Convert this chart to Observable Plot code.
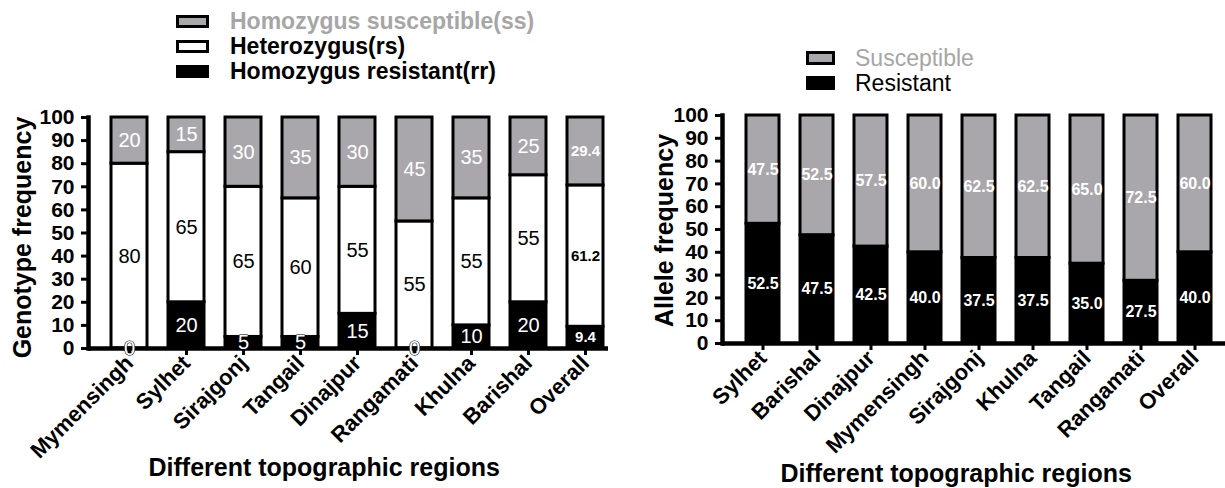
<!DOCTYPE html>
<html>
<head>
<meta charset="utf-8">
<script src="https://cdn.jsdelivr.net/npm/d3@7"></script>
<script src="https://cdn.jsdelivr.net/npm/@observablehq/plot@0.6"></script>
<style>
  body { margin: 0; background: #fff; font-family: "Liberation Sans", Arial, sans-serif; }
  #wrap { position: relative; width: 1225px; height: 488px; overflow: hidden; background: #fff; }
  .chart { position: absolute; top: 0; }
  .sw { box-sizing: border-box; border: 3px solid #000; }
  .title { position: absolute; white-space: nowrap; font-weight: bold; font-size: 25px; line-height: 25px; }
</style>
</head>
<body>
<div id="wrap"></div>
<script>
// ---------- data ----------
const genoRegions = ["Mymensingh", "Sylhet", "Sirajgonj", "Tangail", "Dinajpur", "Rangamati", "Khulna", "Barishal", "Overall"];
const genoRR = [0, 20, 5, 5, 15, 0, 10, 20, 9.4];
const genoRS = [80, 65, 65, 60, 55, 55, 55, 55, 61.2];
const genoSS = [20, 15, 30, 35, 30, 45, 35, 25, 29.4];

const alleleRegions = ["Sylhet", "Barishal", "Dinajpur", "Mymensingh", "Sirajgonj", "Khulna", "Tangail", "Rangamati", "Overall"];
const alleleR = [52.5, 47.5, 42.5, 40.0, 37.5, 37.5, 35.0, 27.5, 40.0];
const alleleS = [47.5, 52.5, 57.5, 60.0, 62.5, 62.5, 65.0, 72.5, 60.0];

const yTicks = [0, 10, 20, 30, 40, 50, 60, 70, 80, 90, 100];
const genoLegend = ["Homozygus susceptible(ss)", "Heterozygus(rs)", "Homozygus resistant(rr)"];
const alleleLegend = ["Susceptible", "Resistant"];
const genoYTitle = "Genotype frequency";
const alleleYTitle = "Allele frequency";
const xTitle = "Different topographic regions";

// ---------- styles ----------
const GRAY = "#a9a7ab";
const FONT = "Liberation Sans, Arial, sans-serif";
const genoFill = {rr: "#000", rs: "#fff", ss: GRAY};
const genoText = {rr: "#fff", rs: "#000", ss: "#fff"};
const alleleFill = {r: "#000", s: GRAY};

function stackRows(regions, series) {
  const rows = [];
  regions.forEach((region, i) => {
    let acc = 0;
    series.forEach(s => {
      const v = s.values[i];
      rows.push({region, key: s.key, value: v, y1: acc, y2: acc + v, mid: acc + v / 2});
      acc += v;
    });
  });
  return rows;
}

const rowsL = stackRows(genoRegions, [
  {key: "rr", values: genoRR}, {key: "rs", values: genoRS}, {key: "ss", values: genoSS}
]);
const rowsR = stackRows(alleleRegions, [
  {key: "r", values: alleleR}, {key: "s", values: alleleS}
]);

const wrap = document.getElementById("wrap");
const axisStyle = {fontFamily: FONT, background: "transparent", overflow: "visible"};
const isOverall = d => d.region === "Overall";

// ---------- left chart ----------
const left = Plot.plot({
  width: 620, height: 488,
  marginLeft: 88, marginRight: 12, marginTop: 117, marginBottom: 140,
  style: axisStyle,
  x: {domain: genoRegions, range: [88, 626], paddingInner: 0.374, paddingOuter: 0.365, label: null},
  y: {domain: [0, 100], label: null},
  color: {type: "identity"},
  marks: [
    Plot.barY(rowsL, {x: "region", y1: "y1", y2: "y2", fill: d => genoFill[d.key], stroke: "#000", strokeWidth: 3}),
    Plot.ruleY([0], {stroke: "#000", strokeWidth: 4.5}),
    Plot.frame({anchor: "left", stroke: "#000", strokeWidth: 4.5}),
    Plot.axisY({ticks: yTicks, tickSize: 7, tickPadding: 7, strokeWidth: 3, fontSize: 21, fontWeight: "bold", fill: "#000", label: null}),
    Plot.axisX({tickSize: 7, tickPadding: 4, strokeWidth: 3, tickRotate: -45, fontSize: 22, fontWeight: "bold", fill: "#000", label: null}),
    // value labels (white rr labels get a thin dark outline so that small/zero ones stay readable)
    Plot.text(rowsL.filter(d => !isOverall(d) && d.key !== "rr"), {
      x: "region", y: "mid", text: d => String(d.value),
      fill: d => genoText[d.key], fontSize: 20, fontFamily: FONT
    }),
    Plot.text(rowsL.filter(d => !isOverall(d) && d.key === "rr"), {
      x: "region", y: "mid", text: d => String(d.value),
      fill: "#fff", stroke: "#000", strokeWidth: 1.2, paintOrder: "stroke", fontSize: 20, fontFamily: FONT
    }),
    Plot.text(rowsL.filter(isOverall), {
      x: "region", y: "mid", text: d => d.value.toFixed(1),
      fill: d => genoText[d.key], fontSize: 15, fontWeight: "bold", fontFamily: FONT
    })
  ]
});
left.classList.add("chart");
left.style.left = "0px";
wrap.appendChild(left);

// ---------- right chart ----------
const right = Plot.plot({
  width: 605, height: 488,
  marginLeft: 102, marginRight: 0, marginTop: 115, marginBottom: 145,
  style: axisStyle,
  x: {domain: alleleRegions, range: [102, 616], paddingInner: 0.382, paddingOuter: 0.364, label: null},
  y: {domain: [0, 100], label: null},
  color: {type: "identity"},
  marks: [
    Plot.barY(rowsR, {x: "region", y1: "y1", y2: "y2", fill: d => alleleFill[d.key], stroke: "#000", strokeWidth: 3}),
    Plot.text(rowsR, {
      x: "region", y: "mid", text: d => d.value.toFixed(1),
      fill: "#fff", fontSize: 16, fontWeight: "bold", fontFamily: FONT
    }),
    Plot.ruleY([0], {stroke: "#000", strokeWidth: 4.5}),
    Plot.frame({anchor: "left", stroke: "#000", strokeWidth: 4.5}),
    Plot.axisY({ticks: yTicks, tickSize: 7, tickPadding: 7, strokeWidth: 3, fontSize: 21, fontWeight: "bold", fill: "#000", label: null}),
    Plot.axisX({tickSize: 7, tickPadding: 4, strokeWidth: 3, tickRotate: -45, fontSize: 22, fontWeight: "bold", fill: "#000", label: null})
  ]
});
right.classList.add("chart");
right.style.left = "620px";
wrap.appendChild(right);

// ---------- legends & titles (HTML) ----------
function legend(items, fills, colors, boxX, boxW, boxH, textX, centers, fontSize, weight) {
  items.forEach((label, i) => {
    const box = document.createElement("div");
    box.className = "sw";
    Object.assign(box.style, {position: "absolute", left: boxX + "px", top: (centers[i] - boxH / 2) + "px",
      width: boxW + "px", height: boxH + "px", background: fills[i]});
    wrap.appendChild(box);
    const t = document.createElement("div");
    t.textContent = label;
    Object.assign(t.style, {position: "absolute", left: textX + "px", top: (centers[i] - fontSize / 2) + "px",
      fontSize: fontSize + "px", lineHeight: fontSize + "px", fontWeight: weight, color: colors[i], whiteSpace: "nowrap"});
    wrap.appendChild(t);
  });
}
legend(genoLegend, [GRAY, "#fff", "#000"], ["#a6a6a6", "#000", "#000"], 176, 33, 13, 230, [21, 46, 71], 23, "bold");
legend(alleleLegend, [GRAY, "#000"], ["#a6a6a6", "#000"], 806, 29, 14, 855, [58, 83], 23, "normal");

function title(text, cx, cy, rotate) {
  const t = document.createElement("div");
  t.className = "title";
  t.textContent = text;
  wrap.appendChild(t);
  const w = t.offsetWidth, h = t.offsetHeight;
  t.style.left = (cx - w / 2) + "px";
  t.style.top = (cy - h / 2) + "px";
  if (rotate) t.style.transform = "rotate(-90deg)";
}
title(genoYTitle, 23, 237, true);
title(alleleYTitle, 664, 230, true);
title(xTitle, 324, 467, false);
title(xTitle, 956, 473, false);
</script>
</body>
</html>
